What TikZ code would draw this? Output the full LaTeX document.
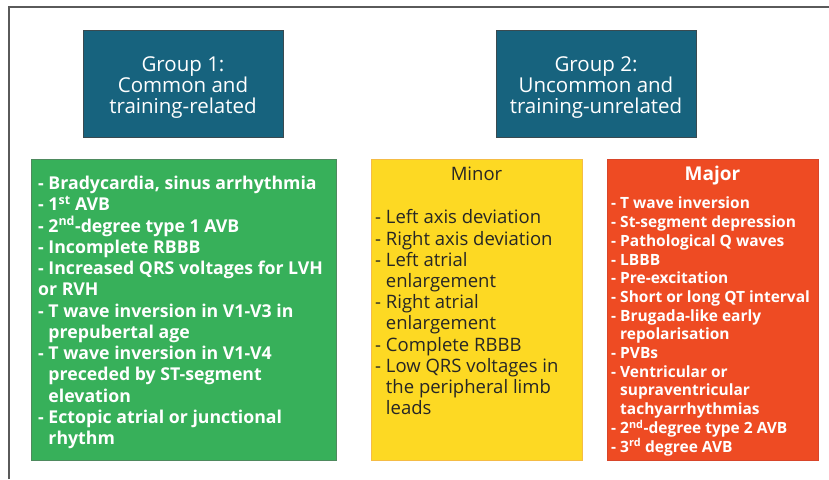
\documentclass[tikz,border=0pt]{standalone}
\usepackage{fontspec}
\setmainfont{Open Sans}
\usetikzlibrary{positioning}
\definecolor{grpblue}{HTML}{17637E}
\definecolor{grpedge}{HTML}{3A4A50}
\definecolor{commgreen}{HTML}{37B05A}
\definecolor{commedge}{HTML}{4E8A5E}
\definecolor{minyellow}{HTML}{FDD923}
\definecolor{minedge}{HTML}{F5BC45}
\definecolor{majred}{HTML}{EE4B23}
\definecolor{majedge}{HTML}{D8452A}
\definecolor{framegray}{HTML}{5A5A5A}
\newcommand{\hang}{\phantom{- }}
\tikzset{
  grpbox/.style={draw=grpedge, fill=grpblue, line width=1pt,
    minimum width=200pt, minimum height=107pt},
  grplabel/.style={text=white, align=center, inner sep=0pt,
    font=\fontsize{20.5}{21}\selectfont},
  listbox/.style={line width=1pt, minimum height=301pt},
  listtext/.style={anchor=north west, inner sep=0pt, align=left},
}
\begin{document}
\begin{tikzpicture}[x=1pt,y=-1pt]
\useasboundingbox (0,0) rectangle (829,479);
% outer frame
\draw[framegray, line width=1.5pt] (9,479) -- (9,7) -- (829,7);

% group headers
\node[grpbox] (grpone) at (183,83.5) {};
\node[grpbox] (grptwo) at (596,83.5) {};
\node[grplabel] (grponetxt) at ([yshift=-4pt]grpone.center) {Group 1:\\Common and\\training-related};
\node[grplabel] (grptwotxt) at ([yshift=-4pt]grptwo.center) {Group 2:\\Uncommon and\\training-unrelated};

% list boxes
\node[listbox, draw=commedge, fill=commgreen, minimum width=305pt] (common) at (183.5,309.5) {};
\node[listbox, draw=minedge, fill=minyellow, minimum width=211pt] (minor) at (476.5,309.5) {};
\node[listbox, draw=majedge, fill=majred, minimum width=211pt] (major) at (712.5,309.5) {};

% group 1 list
\node[listtext, text=white, font=\fontsize{17.7}{21.25}\selectfont\bfseries] (commonlist) at (38,176)
  {- Bradycardia, sinus arrhythmia\\
   - 1\textsuperscript{st} AVB\\
   - 2\textsuperscript{nd}-degree type 1 AVB\\
   - Incomplete RBBB\\
   - Increased QRS voltages for LVH\\
   or RVH\\
   - T wave inversion in V1-V3 in\\
   \hang prepubertal age\\
   - T wave inversion in V1-V4\\
   \hang preceded by ST-segment\\
   \hang elevation\\
   - Ectopic atrial or junctional\\
   \hang rhythm};

% group 2 minor
\node[text=black!85, font=\fontsize{18.5}{21}\selectfont] (minortitle) at (476.5,174) {Minor};
\node[listtext, text=black!85, font=\fontsize{18.5}{21.2}\selectfont] (minorlist) at (375,209.5)
  {- Left axis deviation\\
   - Right axis deviation\\
   - Left atrial\\
   \hang enlargement\\
   - Right atrial\\
   \hang enlargement\\
   - Complete RBBB\\
   - Low QRS voltages in\\
   \hang the peripheral limb\\
   \hang leads};

% group 2 major
\node[text=white, font=\fontsize{19}{21}\selectfont\bfseries] (majortitle) at (712.5,176) {Major};
\node[listtext, text=white, font=\fontsize{15.5}{18.7}\selectfont\bfseries] (majorlist) at (611,197)
  {- T wave inversion\\
   - St-segment depression\\
   - Pathological Q waves\\
   - LBBB\\
   - Pre-excitation\\
   - Short or long QT interval\\
   - Brugada-like early\\
   \hang repolarisation\\
   - PVBs\\
   - Ventricular or\\
   \hang supraventricular\\
   \hang tachyarrhythmias\\
   - 2\textsuperscript{nd}-degree type 2 AVB\\
   - 3\textsuperscript{rd} degree AVB};
\end{tikzpicture}
\end{document}
